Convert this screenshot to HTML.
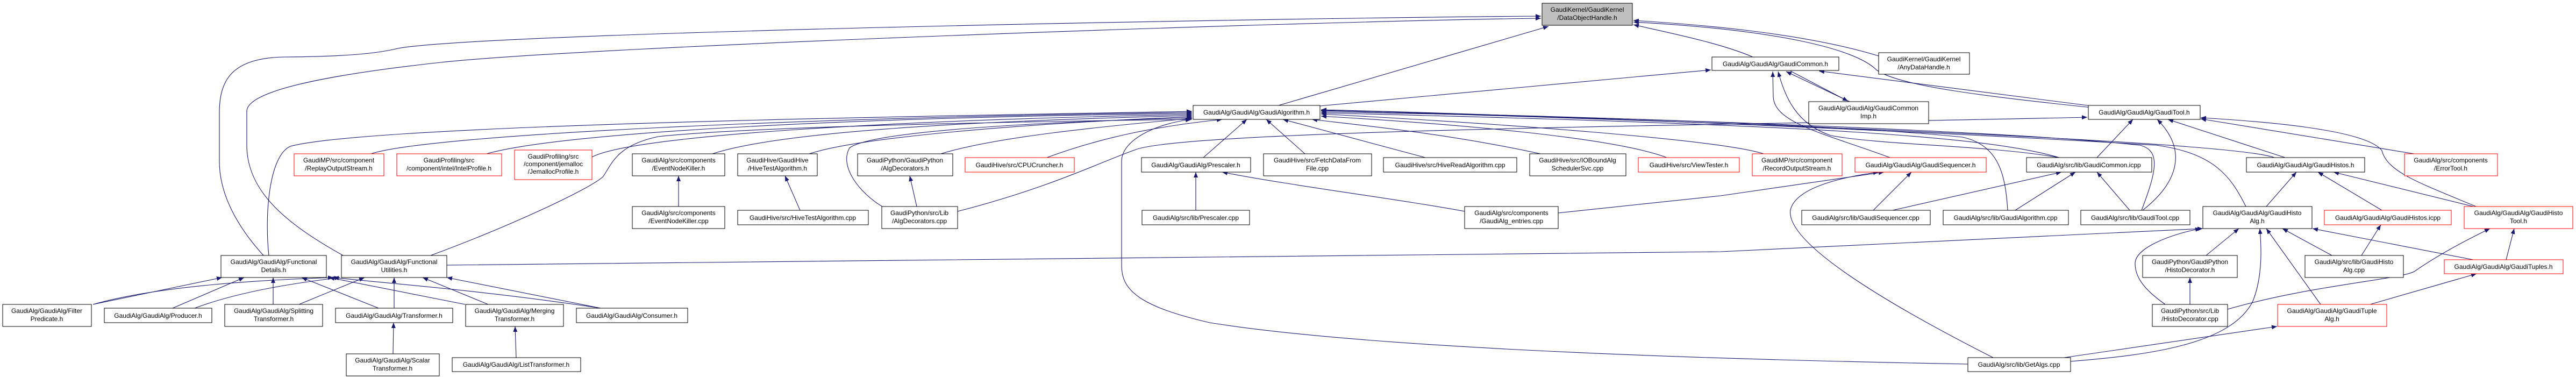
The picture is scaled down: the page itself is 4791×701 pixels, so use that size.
<!DOCTYPE html>
<html><head><meta charset="utf-8"><style>
html,body{margin:0;padding:0;background:#fff;}
svg{display:block}
text{font-family:"Liberation Sans",sans-serif;font-size:12px;fill:#000;text-anchor:middle}
.e{fill:none;stroke:#191970;stroke-width:1.1}
.b{fill:#fff;stroke:#000;stroke-width:1}
.r{fill:#fff;stroke:#ff0000;stroke-width:1}
</style></head><body>
<svg width="4791" height="701" viewBox="0 0 4791 701" xmlns="http://www.w3.org/2000/svg">
<defs><marker id="a" markerWidth="10" markerHeight="8" refX="10" refY="4" orient="auto" markerUnits="userSpaceOnUse"><path d="M0,0 L10,4 L0,8 z" fill="#191970"/></marker></defs>
<g class="e" marker-end="url(#a)">
<path d="M2378,196 L2880,49"/>
<path d="M3260,106 C3200,80 3100,60 3038,46"/>
<path d="M3494,104 C3350,60 3150,45 3038,38"/>
<path d="M3890,200 C3700,180 3530,160 3490,130 C3450,90 3300,55 3038,41"/>
<path d="M490,475 C440,420 408,360 408,300 L408,210 C408,150 430,107 530,106 C640,105 700,100 740,90 C900,60 2400,33 2866,30"/>
<path d="M638,475 C540,420 459,360 459,270 L459,207 C459,170 600,140 820,116 C1100,86 2400,40 2866,34"/>
<path d="M2455,197 L3182,130"/>
<path d="M3890,197 L3383,132"/>
<path d="M3440,189 L3322,133"/>
<path d="M3330,132 L3437,188"/>
<path d="M690,286 C800,250 1500,218 2217,209"/>
<path d="M905,286 C1050,245 1600,218 2217,211"/>
<path d="M1101,292 C1180,250 1700,222 2217,213"/>
<path d="M1325,286 C1450,245 1800,225 2217,215"/>
<path d="M1505,286 C1600,255 1900,230 2217,217"/>
<path d="M1750,286 C1850,255 2050,235 2217,220"/>
<path d="M1947,293 C2050,255 2150,235 2273,222"/>
<path d="M500,475 C492,400 500,290 540,272 C700,230 1800,215 2217,207"/>
<path d="M801,475 C950,420 1100,350 1122,328 C1140,300 1150,270 1224,254 C1400,235 1900,226 2217,222"/>
<path d="M1641,384 C1600,360 1560,310 1580,275 C1620,245 1900,228 2217,219"/>
<path d="M3660,677 C3000,665 2500,640 2250,600 C2120,570 2086,540 2086,494 L2086,300 C2086,260 2150,230 2215,222"/>
<path d="M2238,293 L2319,222"/>
<path d="M2427,286 L2355,222"/>
<path d="M2651,293 L2386,222"/>
<path d="M2865,286 C2700,250 2550,235 2440,222"/>
<path d="M3100,293 C3000,255 2700,230 2457,216"/>
<path d="M3280,286 C3200,260 2800,230 2457,212"/>
<path d="M3830,293 C3700,255 3400,232 2457,210"/>
<path d="M3734,391 C3730,330 3720,270 3650,255 C3400,230 2900,215 2457,208"/>
<path d="M3983,391 C4010,320 4020,280 3980,270 C3700,240 2900,215 2457,206"/>
<path d="M4230,293 C4180,275 3800,245 2457,205"/>
<path d="M4177,384 C4150,330 4120,285 4010,270 C3600,245 2900,215 2457,204"/>
<path d="M3515,293 C3400,250 3300,230 3298,180 L3297,133"/>
<path d="M3829,293 C3700,270 3500,270 3405,252 C3340,230 3320,180 3307,133"/>
<path d="M3900,293 L3967,222"/>
<path d="M3985,391 C4050,340 4070,280 4012,222"/>
<path d="M4250,293 L4032,222"/>
<path d="M4490,286 L4093,221"/>
<path d="M4605,384 C4500,340 4440,320 4430,280 C4400,240 4200,225 4093,219"/>
<path d="M1781,393 C1950,350 2050,300 2110,279 C2200,240 3300,232 3882,218"/>
<path d="M3520,391 L3834,320"/>
<path d="M3748,391 L3860,320"/>
<path d="M3961,391 L3900,320"/>
<path d="M3484,391 L3555,320"/>
<path d="M2898,396 L3200,364 L3504,320"/>
<path d="M2724,393 C2600,370 2400,345 2273,320"/>
<path d="M3707,665 C3500,560 3320,450 3330,390 C3340,350 3420,330 3494,320"/>
<path d="M831,493 L3200,468 L4097,425"/>
<path d="M4103,475 L4164,425"/>
<path d="M4027,566 C3990,540 3971,517 3971,490 C3971,460 4040,435 4093,425"/>
<path d="M4337,475 L4245,425"/>
<path d="M4316,566 L4215,425"/>
<path d="M4600,483 L4301,425"/>
<path d="M3851,672 C4000,660 4150,640 4190,560 C4210,510 4205,450 4203,425"/>
<path d="M3839,665 L4235,607"/>
<path d="M4408,566 L4606,509"/>
<path d="M4661,483 L4676,425"/>
<path d="M4143,575 C4300,530 4460,520 4490,505 C4540,470 4600,440 4631,425"/>
<path d="M4073,566 L4073,516"/>
<path d="M4392,475 L4428,418"/>
<path d="M4215,384 L4271,320"/>
<path d="M4430,391 L4311,320"/>
<path d="M4600,384 L4340,320"/>
<path d="M1262,384 L1262,327"/>
<path d="M1488,391 L1460,327"/>
<path d="M1705,384 L1692,327"/>
<path d="M2224,391 L2224,320"/>
<path d="M731,658 L732,600"/>
<path d="M960,665 L958,607"/>
<path d="M173,566 L413,516"/>
<path d="M173,566 C300,530 500,520 620,516"/>
<path d="M321,573 L454,516"/>
<path d="M362,573 C450,540 560,525 632,516"/>
<path d="M508,566 L508,516"/>
<path d="M556,566 L678,516"/>
<path d="M704,573 L561,516"/>
<path d="M733,573 L733,516"/>
<path d="M865,566 L612,516"/>
<path d="M908,566 L786,516"/>
<path d="M1117,573 C900,540 700,525 620,516"/>
<path d="M1117,573 L831,516"/>
</g>
<g>
<rect x="2868" y="6" width="168" height="41" fill="#bfbfbf" stroke="#000"/><text x="2952" y="22">GaudiKernel/GaudiKernel</text><text x="2952" y="37">/DataObjectHandle.h</text>
<rect class="b" x="2219" y="196" width="236" height="26"/><text x="2337" y="213">GaudiAlg/GaudiAlg/GaudiAlgorithm.h</text>
<rect class="b" x="3184" y="106" width="236" height="25"/><text x="3302" y="123">GaudiAlg/GaudiAlg/GaudiCommon.h</text>
<rect class="b" x="3494" y="98" width="169" height="40"/><text x="3578" y="114">GaudiKernel/GaudiKernel</text><text x="3578" y="129">/AnyDataHandle.h</text>
<rect class="b" x="3364" y="189" width="223" height="41"/><text x="3475" y="205">GaudiAlg/GaudiAlg/GaudiCommon</text><text x="3475" y="220">Imp.h</text>
<rect class="b" x="3884" y="196" width="208" height="26"/><text x="3988" y="213">GaudiAlg/GaudiAlg/GaudiTool.h</text>
<rect class="r" x="547" y="286" width="167" height="41"/><text x="630" y="302">GaudiMP/src/component</text><text x="630" y="317">/ReplayOutputStream.h</text>
<rect class="r" x="738" y="286" width="195" height="41"/><text x="835" y="302">GaudiProfiling/src</text><text x="835" y="317">/component/intel/IntelProfile.h</text>
<rect class="r" x="957" y="279" width="144" height="55"/><text x="1029" y="295">GaudiProfiling/src</text><text x="1029" y="309">/component/jemalloc</text><text x="1029" y="323">/JemallocProfile.h</text>
<rect class="b" x="1176" y="286" width="172" height="41"/><text x="1262" y="302">GaudiAlg/src/components</text><text x="1262" y="317">/EventNodeKiller.h</text>
<rect class="b" x="1372" y="286" width="148" height="41"/><text x="1446" y="302">GaudiHive/GaudiHive</text><text x="1446" y="317">/HiveTestAlgorithm.h</text>
<rect class="b" x="1595" y="286" width="177" height="41"/><text x="1683" y="302">GaudiPython/GaudiPython</text><text x="1683" y="317">/AlgDecorators.h</text>
<rect class="r" x="1795" y="293" width="203" height="27"/><text x="1896" y="311">GaudiHive/src/CPUCruncher.h</text>
<rect class="b" x="2123" y="293" width="203" height="27"/><text x="2224" y="311">GaudiAlg/GaudiAlg/Prescaler.h</text>
<rect class="b" x="2350" y="286" width="201" height="41"/><text x="2450" y="302">GaudiHive/src/FetchDataFrom</text><text x="2450" y="317">File.cpp</text>
<rect class="b" x="2573" y="293" width="248" height="27"/><text x="2697" y="311">GaudiHive/src/HiveReadAlgorithm.cpp</text>
<rect class="b" x="2845" y="286" width="179" height="41"/><text x="2934" y="302">GaudiHive/src/IOBoundAlg</text><text x="2934" y="317">SchedulerSvc.cpp</text>
<rect class="r" x="3047" y="293" width="188" height="27"/><text x="3141" y="311">GaudiHive/src/ViewTester.h</text>
<rect class="r" x="3259" y="286" width="167" height="41"/><text x="3342" y="302">GaudiMP/src/component</text><text x="3342" y="317">/RecordOutputStream.h</text>
<rect class="r" x="3450" y="293" width="244" height="27"/><text x="3572" y="311">GaudiAlg/GaudiAlg/GaudiSequencer.h</text>
<rect class="b" x="3769" y="293" width="233" height="27"/><text x="3885" y="311">GaudiAlg/src/lib/GaudiCommon.icpp</text>
<rect class="b" x="4178" y="293" width="220" height="27"/><text x="4288" y="311">GaudiAlg/GaudiAlg/GaudiHistos.h</text>
<rect class="r" x="4472" y="286" width="173" height="41"/><text x="4558" y="302">GaudiAlg/src/components</text><text x="4558" y="317">/ErrorTool.h</text>
<rect class="b" x="1176" y="384" width="172" height="41"/><text x="1262" y="400">GaudiAlg/src/components</text><text x="1262" y="415">/EventNodeKiller.cpp</text>
<rect class="b" x="1372" y="391" width="243" height="27"/><text x="1493" y="409">GaudiHive/src/HiveTestAlgorithm.cpp</text>
<rect class="b" x="1640" y="384" width="141" height="41"/><text x="1710" y="400">GaudiPython/src/Lib</text><text x="1710" y="415">/AlgDecorators.cpp</text>
<rect class="b" x="2124" y="391" width="200" height="27"/><text x="2224" y="409">GaudiAlg/src/lib/Prescaler.cpp</text>
<rect class="b" x="2724" y="384" width="174" height="41"/><text x="2811" y="400">GaudiAlg/src/components</text><text x="2811" y="415">/GaudiAlg_entries.cpp</text>
<rect class="b" x="3351" y="391" width="239" height="27"/><text x="3470" y="409">GaudiAlg/src/lib/GaudiSequencer.cpp</text>
<rect class="b" x="3614" y="391" width="233" height="27"/><text x="3730" y="409">GaudiAlg/src/lib/GaudiAlgorithm.cpp</text>
<rect class="b" x="3870" y="391" width="203" height="27"/><text x="3971" y="409">GaudiAlg/src/lib/GaudiTool.cpp</text>
<rect class="b" x="4097" y="384" width="203" height="41"/><text x="4198" y="400">GaudiAlg/GaudiAlg/GaudiHisto</text><text x="4198" y="415">Alg.h</text>
<rect class="r" x="4323" y="391" width="236" height="27"/><text x="4441" y="409">GaudiAlg/GaudiAlg/GaudiHistos.icpp</text>
<rect class="r" x="4583" y="384" width="202" height="41"/><text x="4684" y="400">GaudiAlg/GaudiAlg/GaudiHisto</text><text x="4684" y="415">Tool.h</text>
<rect class="b" x="411" y="475" width="196" height="41"/><text x="509" y="491">GaudiAlg/GaudiAlg/Functional</text><text x="509" y="506">Details.h</text>
<rect class="b" x="635" y="475" width="196" height="41"/><text x="733" y="491">GaudiAlg/GaudiAlg/Functional</text><text x="733" y="506">Utilities.h</text>
<rect class="b" x="3985" y="475" width="176" height="41"/><text x="4073" y="491">GaudiPython/GaudiPython</text><text x="4073" y="506">/HistoDecorator.h</text>
<rect class="b" x="4287" y="475" width="183" height="41"/><text x="4378" y="491">GaudiAlg/src/lib/GaudiHisto</text><text x="4378" y="506">Alg.cpp</text>
<rect class="r" x="4546" y="483" width="221" height="26"/><text x="4656" y="500">GaudiAlg/GaudiAlg/GaudiTuples.h</text>
<rect class="b" x="5" y="566" width="165" height="41"/><text x="87" y="582">GaudiAlg/GaudiAlg/Filter</text><text x="87" y="597">Predicate.h</text>
<rect class="b" x="194" y="573" width="200" height="27"/><text x="294" y="591">GaudiAlg/GaudiAlg/Producer.h</text>
<rect class="b" x="418" y="566" width="182" height="41"/><text x="509" y="582">GaudiAlg/GaudiAlg/Splitting</text><text x="509" y="597">Transformer.h</text>
<rect class="b" x="624" y="573" width="218" height="27"/><text x="733" y="591">GaudiAlg/GaudiAlg/Transformer.h</text>
<rect class="b" x="866" y="566" width="182" height="41"/><text x="957" y="582">GaudiAlg/GaudiAlg/Merging</text><text x="957" y="597">Transformer.h</text>
<rect class="b" x="1072" y="573" width="207" height="27"/><text x="1175" y="591">GaudiAlg/GaudiAlg/Consumer.h</text>
<rect class="b" x="4003" y="566" width="140" height="41"/><text x="4073" y="582">GaudiPython/src/Lib</text><text x="4073" y="597">/HistoDecorator.cpp</text>
<rect class="r" x="4236" y="566" width="203" height="41"/><text x="4337" y="582">GaudiAlg/GaudiAlg/GaudiTuple</text><text x="4337" y="597">Alg.h</text>
<rect class="b" x="644" y="658" width="173" height="41"/><text x="730" y="674">GaudiAlg/GaudiAlg/Scalar</text><text x="730" y="689">Transformer.h</text>
<rect class="b" x="841" y="665" width="239" height="26"/><text x="960" y="682">GaudiAlg/GaudiAlg/ListTransformer.h</text>
<rect class="b" x="3660" y="665" width="191" height="26"/><text x="3755" y="682">GaudiAlg/src/lib/GetAlgs.cpp</text>
</g>
</svg>
</body></html>
